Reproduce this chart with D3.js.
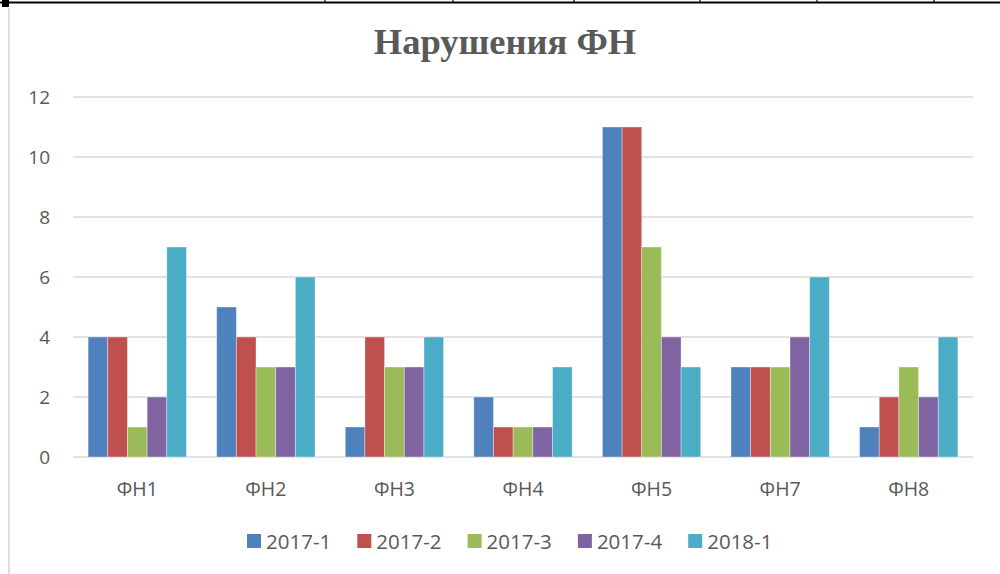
<!DOCTYPE html>
<html>
<head>
<meta charset="utf-8">
<script src="https://cdn.jsdelivr.net/npm/d3@7"></script>
<style>
  body { margin: 0; background: #fff; }
  svg { display: block; }
</style>
</head>
<body>
<div id="chart"></div>
<script>
const categories = ["ФН1", "ФН2", "ФН3", "ФН4", "ФН5", "ФН7", "ФН8"];
const seriesNames = ["2017-1", "2017-2", "2017-3", "2017-4", "2018-1"];
const s2017_1 = [4, 5, 1, 2, 11, 3, 1];
const s2017_2 = [4, 4, 4, 1, 11, 3, 2];
const s2017_3 = [1, 3, 3, 1, 7, 3, 3];
const s2017_4 = [2, 3, 3, 1, 4, 4, 2];
const s2018_1 = [7, 6, 4, 3, 3, 6, 4];
const yTicks = [0, 2, 4, 6, 8, 10, 12];
const colors = ["#4F81BD", "#C0504D", "#9BBB59", "#8064A2", "#4BACC6"];

const seriesValues = [s2017_1, s2017_2, s2017_3, s2017_4, s2018_1];

const width = 1000, height = 574;
const margin = { top: 97, right: 27, bottom: 117, left: 73 };

const svg = d3.select("#chart")
    .append("svg")
    .attr("width", width)
    .attr("height", height);

// table border above the chart (from the document)
svg.append("line")
    .attr("x1", 0).attr("x2", width)
    .attr("y1", 2.5).attr("y2", 2.5)
    .attr("stroke", "#000").attr("stroke-width", 2);
[325, 453, 574, 700, 817, 934].forEach(x => {
    svg.append("line")
        .attr("x1", x).attr("x2", x)
        .attr("y1", 0).attr("y2", 3)
        .attr("stroke", "#000").attr("stroke-width", 1.2);
});
svg.append("rect").attr("x", 2).attr("y", 0).attr("width", 7).attr("height", 7).attr("fill", "#000");
svg.append("line")
    .attr("x1", 9).attr("x2", 9)
    .attr("y1", 8).attr("y2", height)
    .attr("stroke", "#d4d4d4").attr("stroke-width", 1.5);

// Title
svg.append("text")
    .attr("x", 505)
    .attr("y", 54)
    .attr("text-anchor", "middle")
    .style("font-family", "'Liberation Serif', 'Times New Roman', serif")
    .style("font-weight", "bold")
    .style("font-size", "36.5px")
    .style("fill", "#595959")
    .text("Нарушения ФН");

const g = svg.append("g")
    .attr("transform", `translate(${margin.left},${margin.top})`);

const w = width - margin.left - margin.right,
    h = height - margin.top - margin.bottom;

const x0 = d3.scaleBand()
    .domain(categories)
    .range([0, w])
    .paddingInner(0.235)
    .paddingOuter(0.1175);

const x1 = d3.scaleBand()
    .domain(seriesNames)
    .range([0, x0.bandwidth()]);

const y = d3.scaleLinear()
    .domain([0, 12])
    .range([h, 0]);

// Gridlines
g.append("g")
    .selectAll("line")
    .data(yTicks)
    .enter()
    .append("line")
    .attr("x1", 0).attr("x2", w)
    .attr("y1", d => y(d)).attr("y2", d => y(d))
    .attr("stroke", "#d9d9d9")
    .attr("stroke-width", 1.5);

// Y axis labels
const yAxis = g.append("g")
    .call(d3.axisLeft(y).tickValues(yTicks).tickSize(0).tickPadding(23));
yAxis.select(".domain").remove();
yAxis.selectAll("text")
    .style("font-family", "'Open Sans', sans-serif")
    .style("font-size", "19px")
    .style("fill", "#595959");

// Bars
const groups = g.append("g")
    .selectAll("g")
    .data(categories)
    .enter()
    .append("g")
    .attr("transform", d => `translate(${x0(d)},0)`);

groups.selectAll("rect")
    .data((d, i) => seriesNames.map((s, j) => ({ series: s, value: seriesValues[j][i], color: colors[j] })))
    .enter()
    .append("rect")
    .attr("x", d => x1(d.series))
    .attr("y", d => y(d.value))
    .attr("width", x1.bandwidth())
    .attr("height", d => y(0) - y(d.value))
    .attr("fill", d => d.color)
    .attr("stroke", "#ffffff")
    .attr("stroke-opacity", 0.45)
    .attr("stroke-width", 0.8);

// X axis labels
const xAxis = g.append("g")
    .attr("transform", `translate(0,${h})`)
    .call(d3.axisBottom(x0).tickSize(0).tickPadding(25));
xAxis.select(".domain").remove();
xAxis.selectAll("text")
    .style("font-family", "'Open Sans', sans-serif")
    .style("font-size", "19.5px")
    .style("fill", "#595959");

// Legend
const legend = svg.append("g")
    .selectAll("g")
    .data(seriesNames)
    .enter()
    .append("g")
    .attr("transform", (d, i) => `translate(${247 + i * 110.3},534)`);

legend.append("rect")
    .attr("width", 14)
    .attr("height", 14)
    .attr("fill", (d, i) => colors[i]);

legend.append("text")
    .attr("x", 19)
    .attr("y", 14.5)
    .style("font-family", "'Open Sans', sans-serif")
    .style("font-size", "20.5px")
    .style("fill", "#595959")
    .text(d => d);
</script>
</body>
</html>
